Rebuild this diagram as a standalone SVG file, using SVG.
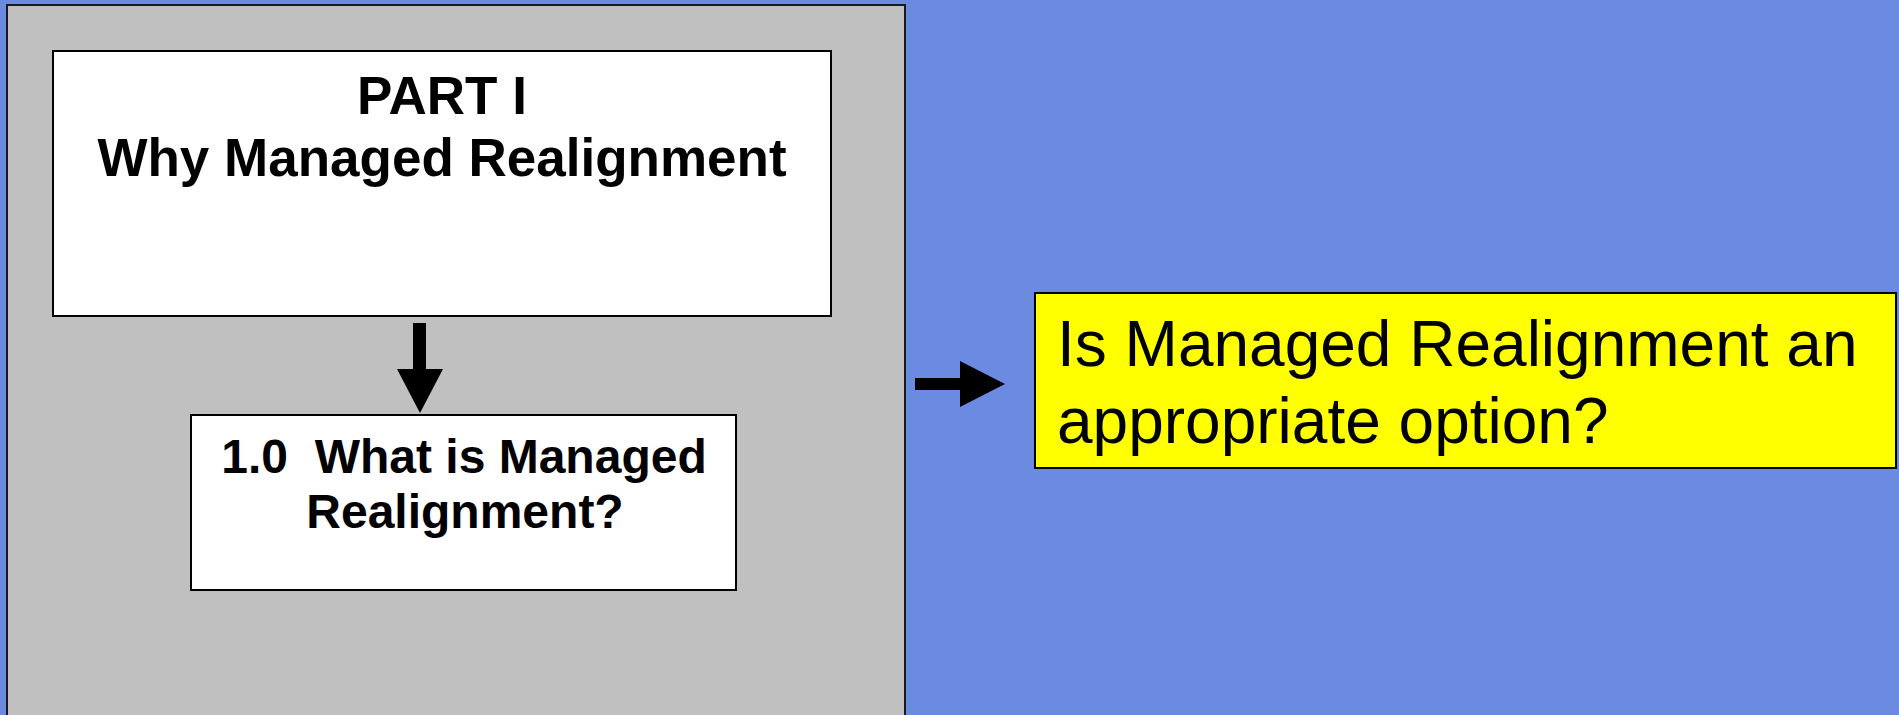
<svg xmlns="http://www.w3.org/2000/svg" width="1899" height="715" viewBox="0 0 1899 715">
  <style>
    .box { fill: #FFFFFF; stroke: #000000; stroke-width: 2; }
    .panel { fill: #C0C0C0; stroke: #1A1A1A; stroke-width: 2; }
    .q { fill: #FFFF00; stroke: #000000; stroke-width: 2; }
    .bold { font-family: "Liberation Sans", Arial, sans-serif; font-weight: bold; fill: #000000; text-anchor: middle; }
    .reg { font-family: "Liberation Sans", Arial, sans-serif; fill: #000000; }
    .arrow { fill: #000000; stroke: none; }
  </style>
  <rect x="0" y="0" width="1899" height="715" fill="#6B8BE3"/>
  <g id="part1-panel">
    <rect class="panel" x="7" y="5" width="898" height="720"/>
  </g>
  <g id="node-why">
    <rect class="box" x="53" y="51" width="778" height="265"/>
    <text class="bold" x="442" y="114" font-size="53">PART I</text>
    <text class="bold" x="442" y="176" font-size="53">Why Managed Realignment</text>
  </g>
  <g id="node-what">
    <rect class="box" x="191" y="415" width="545" height="175"/>
    <text class="bold" x="464" y="473" font-size="48" xml:space="preserve">1.0  What is Managed</text>
    <text class="bold" x="465" y="528" font-size="48">Realignment?</text>
  </g>
  <g id="node-question">
    <rect class="q" x="1035" y="293" width="861" height="175"/>
    <text class="reg" x="1057" y="366" font-size="64">Is Managed Realignment an</text>
    <text class="reg" x="1057" y="443" font-size="64">appropriate option?</text>
  </g>
  <g id="connectors">
    <polygon class="arrow" points="413,323 426,323 426,369 443,369 420,413 397,369 413,369"/>
    <polygon class="arrow" points="915,378 960,378 960,361 1005,384 960,407 960,390 915,390"/>
  </g>
</svg>
